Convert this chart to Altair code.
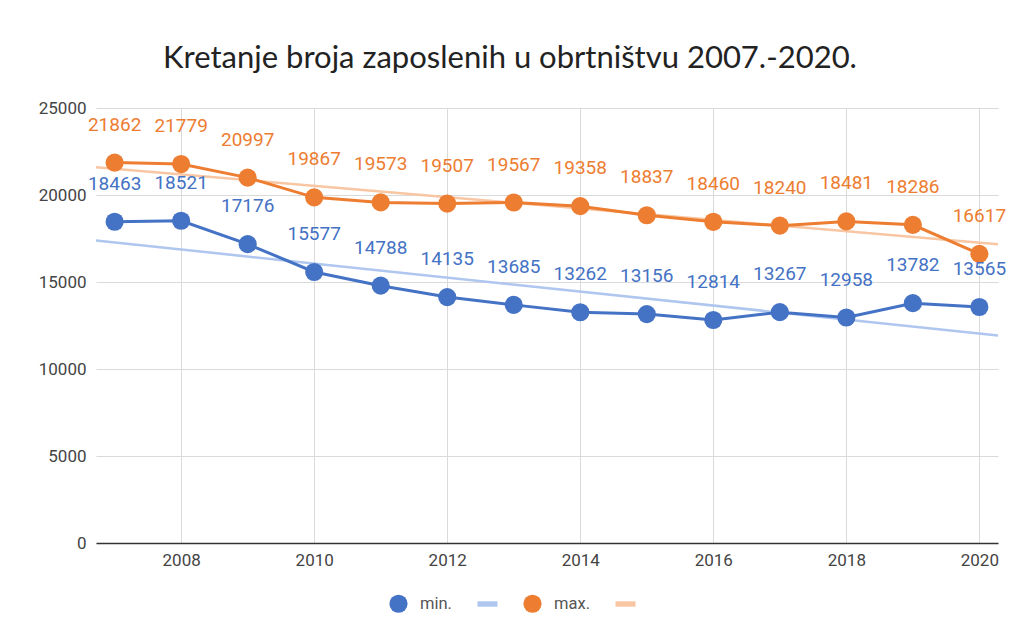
import altair as alt
import pandas as pd

years = list(range(2007, 2021))
min_vals = [18463, 18521, 17176, 15577, 14788, 14135, 13685, 13262, 13156, 12814, 13267, 12958, 13782, 13565]
max_vals = [21862, 21779, 20997, 19867, 19573, 19507, 19567, 19358, 18837, 18460, 18240, 18481, 18286, 16617]
x_ticks = [2008, 2010, 2012, 2014, 2016, 2018, 2020]
y_ticks = [0, 5000, 10000, 15000, 20000, 25000]
title_text = "Kretanje broja zaposlenih u obrtništvu 2007.-2020."

keys = ["min.", "min. trend", "max.", "max. trend"]
colors = ["#4472C4", "#AFC6EE", "#ED7D31", "#F8C6A2"]
dash = "M-0.44,-0.3H1.76V0.3H-0.44Z"
shapes = ["circle", dash, "circle", dash]

df = pd.DataFrame({
    "year": years * 2,
    "value": min_vals + max_vals,
    "key": ["min."] * len(years) + ["max."] * len(years),
})

xdom = [2006.72, 2020.28]
x = alt.X("year:Q",
          scale=alt.Scale(domain=xdom, nice=False, zero=False),
          axis=alt.Axis(values=x_ticks, format="d", title=None, ticks=False,
                        domainColor="#333333", domainWidth=1.5,
                        labelPadding=9))
y = alt.Y("value:Q",
          scale=alt.Scale(domain=[0, 25000], nice=False),
          axis=alt.Axis(values=y_ticks, format="d", title=None, ticks=False,
                        domain=False, labelPadding=10))

legend = alt.Legend(
    orient="none", legendX=293, legendY=486, direction="horizontal",
    title=None, symbolSize=330, symbolStrokeWidth=0,
    labelExpr="indexof(datum.label, 'trend') >= 0 ? '' : datum.label",
    labelFontSize=16.5, labelColor="#555555", labelFont="Roboto",
    labelOffset=12, columnPadding=20,
)
color = alt.Color("key:N", scale=alt.Scale(domain=keys, range=colors), legend=legend)

base = alt.Chart(df)

trend = base.transform_regression(
    "year", "value", groupby=["key"], extent=xdom
).transform_calculate(
    key="datum.key + ' trend'"
).mark_line(strokeWidth=2.5).encode(x=x, y=y, color=color)

lines = base.mark_line(strokeWidth=3).encode(x=x, y=y, color=color)

points = base.mark_point(filled=True, size=330, opacity=1).encode(
    x=x, y=y,
    color=color,
    shape=alt.Shape("key:N", scale=alt.Scale(domain=keys, range=shapes), legend=legend),
)

labels = base.mark_text(dy=-38, fontSize=19, font="Roboto").encode(
    x=x, y=y, text=alt.Text("value:Q", format="d"), color=color
)

chart = alt.layer(trend, lines, points, labels).properties(
    width=902, height=435,
    title=alt.TitleParams(title_text, fontSize=31, font="Lato", color="#222222",
                          fontWeight="normal", anchor="middle", frame="group",
                          dx=-37, dy=36, offset=36, baseline="alphabetic"),
    autosize=alt.AutoSizeParams(type="none"),
    padding={"left": 88, "top": 100, "right": 9, "bottom": 80},
).configure_view(stroke=None).configure_axis(
    labelFont="Roboto", labelFontSize=17, labelColor="#444444",
    gridColor="#DADADA", gridWidth=1,
)

chart.save("out.html", embed_options={"renderer": "svg", "actions": False})
